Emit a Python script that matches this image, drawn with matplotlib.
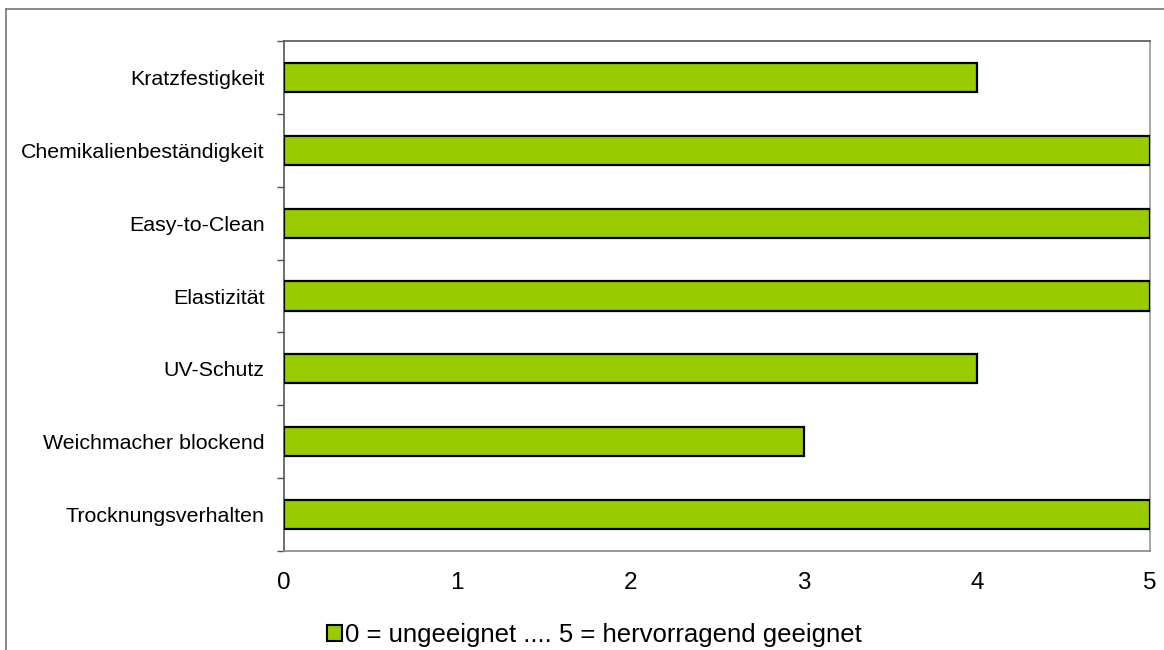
import matplotlib
matplotlib.use("Agg")
import matplotlib.pyplot as plt
from matplotlib.patches import Patch
from matplotlib.lines import Line2D

plt.rcParams['font.family'] = ['Liberation Sans', 'DejaVu Sans']

categories = ["Trocknungsverhalten", "Weichmacher blockend", "UV-Schutz",
              "Elastizität", "Easy-to-Clean", "Chemikalienbeständigkeit",
              "Kratzfestigkeit"]
values = [5, 3, 4, 5, 5, 5, 4]
x_ticks = [0, 1, 2, 3, 4, 5]
legend_label = "0 = ungeeignet .... 5 = hervorragend geeignet"
bar_color = "#99CC00"

fig = plt.figure(figsize=(11.64, 6.5), dpi=100)
ax = fig.add_axes([284 / 1164, 99 / 650, 866 / 1164, 510 / 650])

pos = list(range(len(categories)))
ax.barh(pos, values, height=0.4, color=bar_color, edgecolor="black",
        linewidth=1.6, zorder=3)

ax.set_xlim(0, 5)
ax.set_ylim(-0.5, len(categories) - 0.5)
ax.set_xticks(x_ticks)
ax.set_xticklabels([str(t) for t in x_ticks], fontsize=17.5)
ax.tick_params(axis="x", length=0, pad=15)

ax.set_yticks(pos)
ax.set_yticklabels(categories, fontsize=15.4)
ax.tick_params(axis="y", which="major", length=0, pad=14)
ax.set_yticks([p - 0.5 for p in pos] + [len(categories) - 0.5], minor=True)
ax.tick_params(axis="y", which="minor", length=5, width=1, color="#555555")

for side, col in [("left", "#555555"), ("bottom", "#888888"),
                  ("top", "#555555"), ("right", "#999999")]:
    ax.spines[side].set_color(col)
    ax.spines[side].set_linewidth(1.2)

# outer chart border (runs off the right and bottom edges)
fig.add_artist(Line2D([6 / 1164, 1.01], [1 - 9 / 650, 1 - 9 / 650],
                      transform=fig.transFigure, color="#777777", lw=1.2))
fig.add_artist(Line2D([6 / 1164, 6 / 1164], [1 - 9 / 650, -0.01],
                      transform=fig.transFigure, color="#777777", lw=1.2))

handle = Patch(facecolor=bar_color, edgecolor="black", linewidth=1.5)
fig.legend([handle], [legend_label], loc="center", bbox_to_anchor=(594 / 1164, 15 / 650),
           frameon=False, fontsize=18.5, handlelength=0.6, handleheight=0.6,
           handletextpad=0.1, borderaxespad=0)

fig.savefig("out.png", dpi=100)
